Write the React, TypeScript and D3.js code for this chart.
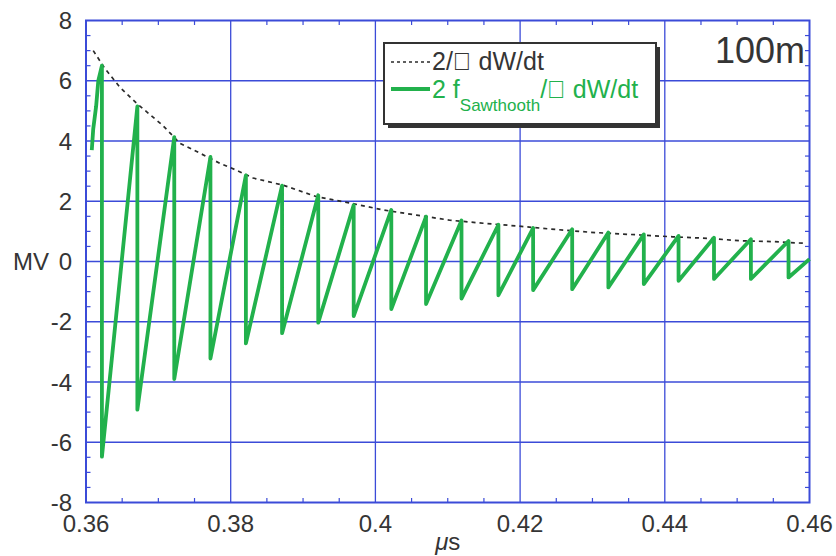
import React from "react";
import * as d3 from "d3";

// ---- data ----
const xTicks = [0.36, 0.38, 0.4, 0.42, 0.44, 0.46];
const xTickLabels = ["0.36", "0.38", "0.4", "0.42", "0.44", "0.46"];
const yTicks = [-8, -6, -4, -2, 0, 2, 4, 6, 8];
const yTickLabels = ["-8", "-6", "-4", "-2", "0", "2", "4", "6", "8"];

// leading rise of the sawtooth before the first drop
const leadTimes = [0.3608, 0.361, 0.3614, 0.3617];
const leadValues = [3.7, 4.4, 5.15, 6.0];

// sawtooth drop instants, peak before each drop, trough after each drop
const dropTimes = [
  0.3622, 0.3671, 0.3722, 0.3772, 0.3821, 0.3871, 0.3921, 0.397, 0.4022, 0.407,
  0.4119, 0.417, 0.4218, 0.4272, 0.4322, 0.4371, 0.4419, 0.4468, 0.4519, 0.4571,
];
const peakValues = [
  6.5, 5.15, 4.13, 3.47, 2.86, 2.52, 2.2, 1.87, 1.71, 1.49,
  1.36, 1.22, 1.11, 1.07, 0.96, 0.9, 0.85, 0.79, 0.74, 0.68,
];
const troughValues = [
  -6.48, -4.92, -3.9, -3.22, -2.72, -2.38, -2.03, -1.81, -1.58, -1.41,
  -1.23, -1.12, -0.95, -0.92, -0.86, -0.75, -0.64, -0.58, -0.58, -0.53,
];
const endTime = 0.46;
const endValue = 0.08;

// 2/pi dW/dt envelope (dashed)
const envTimes = [
  0.361, 0.3626, 0.3647, 0.367, 0.3706, 0.373, 0.3758, 0.3785, 0.3808, 0.3831,
  0.3873, 0.3919, 0.3965, 0.4011, 0.4057, 0.4103, 0.4149, 0.4195, 0.4241, 0.4297,
  0.4366, 0.4411, 0.4458, 0.4504, 0.455, 0.4596,
];
const envValues = [
  7.0, 6.41, 5.78, 5.25, 4.52, 3.92, 3.59, 3.26, 3.03, 2.77,
  2.53, 2.15, 1.94, 1.71, 1.54, 1.37, 1.27, 1.18, 1.08, 0.97,
  0.88, 0.82, 0.77, 0.69, 0.66, 0.6,
];

const legendLabel1 = "2/\uF070 dW/dt";
const legendLabel2a = "2 f";
const legendLabel2sub = "Sawthooth";
const legendLabel2b = "/\uF070 dW/dt";
const cornerLabel = "100m";
const xTitle = "s";
const yTitle = "MV";

// ---- style ----
const BLUE = "#3b4bd8";
const GREEN = "#22b14c";
const TEXT = "#353535";
const FONT = "'Liberation Sans', Arial, Helvetica, sans-serif";

export default function App() {
  const left = 86, right = 809.5, top = 20.5, bottom = 502.5;
  const x = d3.scaleLinear().domain([0.36, 0.46]).range([left, right]);
  const y = d3.scaleLinear().domain([-8, 8]).range([bottom, top]);

  const saw: [number, number][] = [];
  leadTimes.forEach((t, i) => saw.push([t, leadValues[i]]));
  dropTimes.forEach((t, i) => {
    saw.push([t, peakValues[i]]);
    saw.push([t, troughValues[i]]);
  });
  saw.push([endTime, endValue]);

  const env: [number, number][] = envTimes.map((t, i) => [t, envValues[i]]);

  const line = d3
    .line<[number, number]>()
    .x((d) => x(d[0]))
    .y((d) => y(d[1]));

  const minorX = d3.range(0.365, 0.46, 0.005).filter((v) => Math.abs(Math.round(v / 0.02) * 0.02 - v) > 1e-6);
  const minorY = d3.range(-7.5, 8, 0.5).filter((v) => Math.abs(v % 2) > 1e-6);

  const tickLen = 4.5;

  return (
    <svg
      width={836}
      height={556}
      style={{ position: "absolute", left: 0, top: 0, background: "#fff" }}
      fontFamily={FONT}
    >
      <rect x={0} y={0} width={836} height={556} fill="#fff" />
      {/* grid */}
      {xTicks.slice(1, -1).map((t) => (
        <line key={"gx" + t} x1={x(t)} x2={x(t)} y1={top} y2={bottom} stroke={BLUE} strokeWidth={1.3} />
      ))}
      {yTicks.slice(1, -1).map((t) => (
        <line key={"gy" + t} x1={left} x2={right} y1={y(t)} y2={y(t)} stroke={BLUE} strokeWidth={1.3} />
      ))}
      {/* minor ticks */}
      {minorX.map((t) => (
        <g key={"mx" + t}>
          <line x1={x(t)} x2={x(t)} y1={bottom} y2={bottom - tickLen} stroke={BLUE} strokeWidth={1.2} />
          <line x1={x(t)} x2={x(t)} y1={top} y2={top + tickLen} stroke={BLUE} strokeWidth={1.2} />
        </g>
      ))}
      {minorY.map((t) => (
        <g key={"my" + t}>
          <line x1={left} x2={left + tickLen} y1={y(t)} y2={y(t)} stroke={BLUE} strokeWidth={1.2} />
          <line x1={right} x2={right - tickLen} y1={y(t)} y2={y(t)} stroke={BLUE} strokeWidth={1.2} />
        </g>
      ))}
      {/* frame */}
      <rect x={left} y={top} width={right - left} height={bottom - top} fill="none" stroke={BLUE} strokeWidth={2} />

      {/* series */}
      <path d={line(env) || ""} fill="none" stroke="#2a2a2a" strokeWidth={1.7} strokeDasharray="4,4" />
      <path d={line(saw) || ""} fill="none" stroke={GREEN} strokeWidth={3.8} strokeLinejoin="round" />

      {/* tick labels */}
      {xTicks.map((t, i) => (
        <text key={"xl" + t} x={x(t)} y={bottom + 29} textAnchor="middle" fontSize={24} fill={TEXT}>
          {xTickLabels[i]}
        </text>
      ))}
      {yTicks.map((t, i) => (
        <text key={"yl" + t} x={72} y={y(t) + 8.5} textAnchor="end" fontSize={24} fill={TEXT}>
          {yTickLabels[i]}
        </text>
      ))}
      <text x={13} y={y(0) + 8.5} fontSize={24} fill={TEXT}>
        {yTitle}
      </text>
      <text x={(left + right) / 2} y={550} textAnchor="middle" fontSize={24} fill={TEXT}>
        <tspan fontStyle="italic">{"\u03BC"}</tspan>
        {xTitle}
      </text>

      {/* corner label */}
      <text x={805} y={63} textAnchor="end" fontSize={36} fill={TEXT}>
        {cornerLabel}
      </text>

      {/* legend */}
      <rect x={388} y={47} width={272} height={81} fill="#333" />
      <rect x={384} y={43} width={272} height={81} fill="#fff" stroke="#333" strokeWidth={2} />
      <line x1={391} x2={430} y1={62} y2={62} stroke="#2a2a2a" strokeWidth={1.6} strokeDasharray="3,3" />
      <text x={432} y={70} fontSize={25} fill={TEXT}>
        {legendLabel1}
      </text>
      <line x1={391} x2={430} y1={89} y2={89} stroke={GREEN} strokeWidth={4} />
      <text x={432} y={98} fontSize={25} fill={GREEN}>
        <tspan>{legendLabel2a}</tspan>
        <tspan fontSize={17} dy={13}>
          {legendLabel2sub}
        </tspan>
        <tspan dy={-13}>{legendLabel2b}</tspan>
      </text>
    </svg>
  );
}
